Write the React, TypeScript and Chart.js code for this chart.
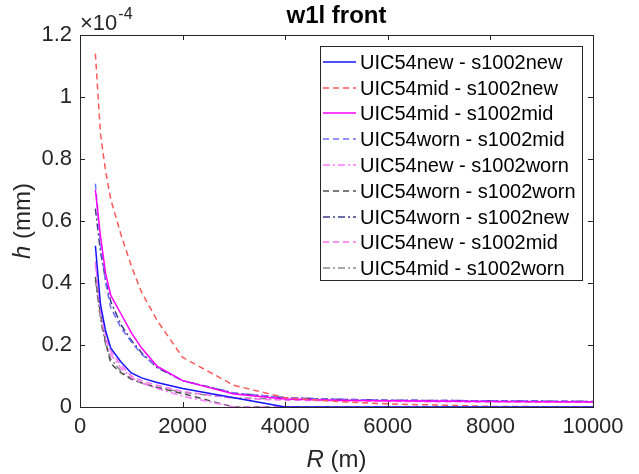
import React, { useEffect, useRef } from "react";
import { Chart, registerables } from "chart.js";
Chart.register(...registerables);

// R (m)
const R = [300, 400, 500, 600, 800, 1000, 1200, 1500, 2000, 3000, 4000, 5000, 6000, 8000, 10000];
// h values in units of 1e-4 mm
const newNew = [0.52, 0.33, 0.245, 0.19, 0.145, 0.11, 0.094, 0.079, 0.06, 0.03, 0, 0, 0, 0, 0];
const midNew = [1.14, 0.88, 0.76, 0.67, 0.555, 0.455, 0.37, 0.28, 0.16, 0.07, 0.03, 0.018, 0.01, 0.002, 0];
const midMid = [0.7, 0.55, 0.43, 0.36, 0.3, 0.24, 0.19, 0.132, 0.085, 0.042, 0.026, 0.022, 0.02, 0.018, 0.016];
const wornMid = [0.72, 0.53, 0.4, 0.32, 0.255, 0.21, 0.17, 0.13, 0.085, 0.045, 0.03, 0.025, 0.022, 0.02, 0.018];
const newWorn = [0.46, 0.31, 0.22, 0.17, 0.125, 0.095, 0.078, 0.06, 0.035, 0, 0, 0, 0, 0, 0];
const wornWorn = [0.42, 0.3, 0.21, 0.14, 0.11, 0.09, 0.078, 0.063, 0.043, 0, 0, 0, 0, 0, 0];
const wornNew = [0.64, 0.5, 0.41, 0.34, 0.265, 0.215, 0.175, 0.127, 0.085, 0.045, 0.03, 0.025, 0.022, 0.02, 0.018];
const newMid = [0.47, 0.32, 0.235, 0.18, 0.135, 0.1, 0.085, 0.07, 0.05, 0.028, 0.022, 0.02, 0.018, 0.016, 0.015];
const midWorn = [0.41, 0.28, 0.2, 0.155, 0.115, 0.09, 0.077, 0.064, 0.047, 0.03, 0.025, 0.022, 0.02, 0.018, 0.017];

const seriesNames = [
  "UIC54new - s1002new",
  "UIC54mid - s1002new",
  "UIC54mid - s1002mid",
  "UIC54worn - s1002mid",
  "UIC54new - s1002worn",
  "UIC54worn - s1002worn",
  "UIC54worn - s1002new",
  "UIC54new - s1002mid",
  "UIC54mid - s1002worn",
];
const seriesValues = [newNew, midNew, midMid, wornMid, newWorn, wornWorn, wornNew, newMid, midWorn];

const xTicks = [0, 2000, 4000, 6000, 8000, 10000];
const yTicks = [0, 0.2, 0.4, 0.6, 0.8, 1, 1.2];

const DASH = [6, 4];
const DASHDOT = [7, 3, 2, 3];
const styles = [
  { color: "rgb(20,20,255)", dash: [] as number[] },
  { color: "rgb(255,90,90)", dash: DASH },
  { color: "rgb(255,0,255)", dash: [] as number[] },
  { color: "rgb(110,110,255)", dash: DASH },
  { color: "rgb(255,120,255)", dash: DASHDOT },
  { color: "rgb(80,80,80)", dash: DASH },
  { color: "rgb(60,60,140)", dash: DASHDOT },
  { color: "rgb(255,110,240)", dash: DASH },
  { color: "rgb(140,140,140)", dash: DASHDOT },
];

const FONT = "Arial, 'Liberation Sans', Helvetica, sans-serif";
const AX = "#262626";

const decor = {
  id: "decor",
  afterDraw(chart: any) {
    const { ctx, chartArea: a, scales } = chart;
    ctx.save();
    // box
    ctx.strokeStyle = AX;
    ctx.lineWidth = 1;
    ctx.setLineDash([]);
    ctx.strokeRect(Math.round(a.left) + 0.5, Math.round(a.top) + 0.5, Math.round(a.right - a.left), Math.round(a.bottom - a.top));
    // ticks inward
    ctx.beginPath();
    xTicks.forEach((v) => {
      const x = Math.round(scales.x.getPixelForValue(v)) + 0.5;
      ctx.moveTo(x, a.bottom);
      ctx.lineTo(x, a.bottom - 5);
      ctx.moveTo(x, a.top);
      ctx.lineTo(x, a.top + 5);
    });
    yTicks.forEach((v) => {
      const y = Math.round(scales.y.getPixelForValue(v)) + 0.5;
      ctx.moveTo(a.left, y);
      ctx.lineTo(a.left + 5, y);
      ctx.moveTo(a.right, y);
      ctx.lineTo(a.right - 5, y);
    });
    ctx.stroke();

    // title
    ctx.fillStyle = "#000";
    ctx.font = `bold 24px ${FONT}`;
    ctx.textAlign = "center";
    ctx.textBaseline = "middle";
    ctx.fillText("w1l front", (a.left + a.right) / 2, 16);

    // exponent
    ctx.fillStyle = AX;
    ctx.textAlign = "left";
    ctx.textBaseline = "alphabetic";
    ctx.font = `22px ${FONT}`;
    ctx.fillText("\u00d710", 80, 30);
    const w10 = ctx.measureText("\u00d710").width;
    ctx.font = `16px ${FONT}`;
    ctx.fillText("-4", 80 + w10 + 1, 19);

    // x label
    ctx.font = `italic 24px ${FONT}`;
    const wR = ctx.measureText("R").width;
    ctx.font = `24px ${FONT}`;
    const wRest = ctx.measureText(" (m)").width;
    const cx = (a.left + a.right) / 2;
    const x0 = cx - (wR + wRest) / 2;
    ctx.textBaseline = "middle";
    ctx.font = `italic 24px ${FONT}`;
    ctx.fillText("R", x0, 460);
    ctx.font = `24px ${FONT}`;
    ctx.fillText(" (m)", x0 + wR, 460);

    // y label
    ctx.save();
    ctx.translate(23, (a.top + a.bottom) / 2);
    ctx.rotate(-Math.PI / 2);
    ctx.font = `italic 24px ${FONT}`;
    const wh = ctx.measureText("h").width;
    ctx.font = `24px ${FONT}`;
    const wmm = ctx.measureText(" (mm)").width;
    const y0 = -(wh + wmm) / 2;
    ctx.font = `italic 24px ${FONT}`;
    ctx.fillText("h", y0, 0);
    ctx.font = `24px ${FONT}`;
    ctx.fillText(" (mm)", y0 + wh, 0);
    ctx.restore();

    // legend
    const lx = 320, ly = 46, lw = 262, lh = 234;
    ctx.fillStyle = "#fff";
    ctx.fillRect(lx, ly, lw, lh);
    ctx.strokeStyle = AX;
    ctx.lineWidth = 1;
    ctx.setLineDash([]);
    ctx.strokeRect(lx + 0.5, ly + 0.5, lw, lh);
    ctx.font = `20px ${FONT}`;
    ctx.textBaseline = "middle";
    ctx.textAlign = "left";
    chart.data.datasets.forEach((ds: any, i: number) => {
      const y = Math.round(61.7 + i * 25.8);
      ctx.strokeStyle = ds.borderColor;
      ctx.setLineDash(ds.borderDash || []);
      ctx.lineWidth = 1.5;
      ctx.beginPath();
      ctx.moveTo(323, y);
      ctx.lineTo(356, y);
      ctx.stroke();
      ctx.fillStyle = "#000";
      ctx.fillText(ds.label, 360, y + 1);
    });
    ctx.restore();
  },
};

export default function App() {
  const ref = useRef<HTMLCanvasElement | null>(null);
  useEffect(() => {
    if (!ref.current) return;
    const datasets = seriesNames.map((name, i) => ({
      label: name,
      data: R.map((r, j) => ({ x: r, y: seriesValues[i][j] })),
      borderColor: styles[i].color,
      backgroundColor: styles[i].color,
      borderDash: styles[i].dash,
      borderWidth: 1.5,
      pointRadius: 0,
      tension: 0,
      fill: false,
    }));
    const chart = new Chart(ref.current, {
      type: "line",
      data: { datasets },
      options: {
        animation: false,
        responsive: false,
        layout: { padding: { left: 0, right: 46, top: 35, bottom: 0 } },
        plugins: { legend: { display: false }, title: { display: false }, tooltip: { enabled: false } },
        scales: {
          x: {
            type: "linear",
            min: 0,
            max: 10000,
            afterBuildTicks: (s: any) => {
              s.ticks = xTicks.map((v) => ({ value: v }));
            },
            afterFit: (s: any) => {
              s.height = 67;
            },
            grid: { display: false, drawTicks: false },
            border: { display: false },
            ticks: {
              padding: 7,
              color: AX,
              font: { family: FONT, size: 22 },
              maxRotation: 0,
              callback: (v: any) => String(v),
            },
          },
          y: {
            type: "linear",
            min: 0,
            max: 1.2,
            afterBuildTicks: (s: any) => {
              s.ticks = yTicks.map((v) => ({ value: v }));
            },
            afterFit: (s: any) => {
              s.width = 80;
            },
            grid: { display: false, drawTicks: false },
            border: { display: false },
            ticks: {
              padding: 8,
              color: AX,
              font: { family: FONT, size: 22 },
              callback: (v: any) => String(Math.round(v * 10) / 10),
            },
          },
        },
      },
      plugins: [decor],
    } as any);
    return () => chart.destroy();
  }, []);
  return (
    <div style={{ position: "absolute", left: 0, top: 0, width: 639, height: 474, background: "#fff" }}>
      <canvas ref={ref} width={639} height={474} style={{ display: "block" }} />
    </div>
  );
}
